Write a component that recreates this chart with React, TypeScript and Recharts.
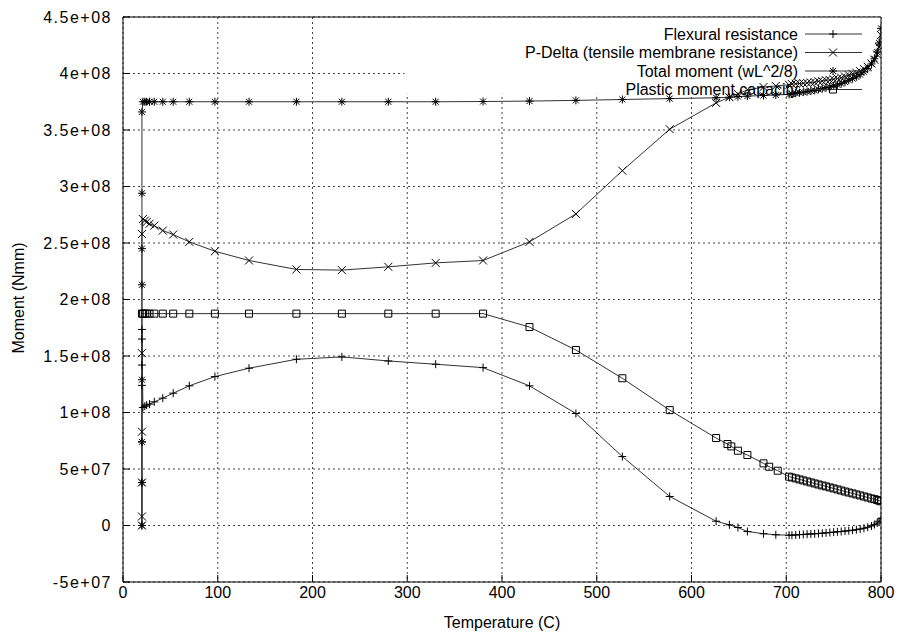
import { LineChart, Line, XAxis, YAxis, CartesianGrid, ReferenceArea, ReferenceLine } from 'recharts';

// moments are in units of 1e8 Nmm, temperature in C
const xTicks = [0, 100, 200, 300, 400, 500, 600, 700, 800];
const yTicks = [-0.5, 0, 0.5, 1, 1.5, 2, 2.5, 3, 3.5, 4, 4.5];
const yTickLabels = ['-5e+07', '0', '5e+07', '1e+08', '1.5e+08', '2e+08', '2.5e+08', '3e+08', '3.5e+08', '4e+08', '4.5e+08'];

const legendNames = ['Flexural resistance', 'P-Delta (tensile membrane resistance)', 'Total moment (wL^2/8)', 'Plastic moment capacity'];

const flexural = [
  [20, 0], [20, 0.38], [20, 0.74], [20, 1.24], [20, 1.42], [20, 1.65], [20, 1.735],
  [21, 1.044], [23, 1.056], [25, 1.065], [28, 1.074], [33, 1.094], [42, 1.127], [53, 1.171], [70, 1.236],
  [97, 1.318], [133, 1.392], [183, 1.471], [231, 1.492], [280, 1.456], [330, 1.427], [380, 1.397],
  [429, 1.236], [478, 0.991], [527, 0.61], [577, 0.257], [626, 0.038], [640, 0.006], [649, -0.018],
  [659, -0.053], [676, -0.073], [689, -0.082], [703, -0.086],
  [706, -0.086], [710, -0.084], [714, -0.081], [718, -0.079], [722, -0.077], [726, -0.075], [730, -0.073],
  [734, -0.071], [738, -0.068], [742, -0.065], [746, -0.062], [750, -0.059], [754, -0.056], [758, -0.053],
  [762, -0.049], [766, -0.046], [770, -0.042], [774, -0.037], [778, -0.031], [782, -0.024], [786, -0.015],
  [790, -0.004], [793, 0.008], [796, 0.022], [798, 0.038], [800, 0.06],
];

const pDelta = [
  [20, 0], [20, 0.08], [20, 0.38], [20, 0.83], [20, 1.525], [20, 2.58],
  [21, 2.712], [23, 2.698], [25, 2.686], [28, 2.67], [33, 2.654], [42, 2.61], [53, 2.575], [70, 2.51],
  [97, 2.427], [133, 2.345], [183, 2.266], [231, 2.26], [280, 2.289], [330, 2.324], [380, 2.345],
  [429, 2.51], [478, 2.757], [527, 3.14], [577, 3.507], [626, 3.74], [640, 3.79], [649, 3.82],
  [659, 3.855], [676, 3.88], [689, 3.89], [703, 3.9],
  [706, 3.906], [710, 3.909], [714, 3.911], [718, 3.914], [722, 3.917], [726, 3.92], [730, 3.923],
  [734, 3.931], [738, 3.933], [742, 3.94], [746, 3.942], [750, 3.949], [754, 3.956], [758, 3.963],
  [762, 3.974], [766, 3.986], [770, 3.997], [774, 4.007], [778, 4.021], [782, 4.039], [786, 4.06],
  [790, 4.089], [793, 4.122], [796, 4.168], [798, 4.232], [800, 4.34],
];

const totalMoment = [
  [20, 0], [20, 0.38], [20, 0.74], [20, 1.29], [20, 2.13], [20, 2.45], [20, 2.94], [20, 3.66],
  [21, 3.75], [23, 3.75], [25, 3.75], [28, 3.75], [33, 3.75], [42, 3.75], [53, 3.75], [70, 3.75],
  [97, 3.75], [133, 3.75], [183, 3.75], [231, 3.75], [280, 3.75], [330, 3.75], [380, 3.752],
  [429, 3.756], [478, 3.762], [527, 3.77], [577, 3.778], [626, 3.785], [640, 3.79], [649, 3.795],
  [659, 3.8], [676, 3.805], [689, 3.81], [703, 3.815],
  [706, 3.82], [710, 3.825], [714, 3.83], [718, 3.835], [722, 3.84], [726, 3.845], [730, 3.85],
  [734, 3.86], [738, 3.865], [742, 3.875], [746, 3.88], [750, 3.89], [754, 3.9], [758, 3.91],
  [762, 3.925], [766, 3.94], [770, 3.955], [774, 3.97], [778, 3.99], [782, 4.015], [786, 4.045],
  [790, 4.085], [793, 4.13], [796, 4.19], [798, 4.27], [800, 4.4],
];

const plastic = [
  [20, 1.875], [21, 1.875], [23, 1.875], [25, 1.875], [28, 1.875], [33, 1.875], [42, 1.875], [53, 1.875],
  [70, 1.875], [97, 1.875], [133, 1.875], [183, 1.875], [231, 1.875], [280, 1.875], [330, 1.875],
  [380, 1.875], [429, 1.756], [478, 1.553], [527, 1.303], [577, 1.021], [626, 0.774], [638, 0.721],
  [642, 0.7], [649, 0.662], [659, 0.624], [676, 0.55], [682, 0.52], [691, 0.485], [703, 0.432],
  [706, 0.425], [710, 0.417], [714, 0.408], [718, 0.399], [722, 0.39], [726, 0.381], [730, 0.372],
  [734, 0.363], [738, 0.354], [742, 0.346], [746, 0.337], [750, 0.328], [754, 0.319], [758, 0.31],
  [762, 0.301], [766, 0.292], [770, 0.284], [774, 0.275], [778, 0.266], [782, 0.257], [786, 0.248],
  [790, 0.239], [793, 0.233], [796, 0.226], [798, 0.22], [800, 0.214],
];

const font = '"Liberation Sans", Arial, sans-serif';
const ink = '#000';
const lineInk = '#333';

const rows = (pts: number[][]) => pts.map(([t, m]) => ({ t, m }));

type Mk = 'plus' | 'cross' | 'star' | 'square';

const markPath = (k: Mk, x: number, y: number) => {
  const s = 4;
  if (k === 'plus') return `M${x - s},${y}h${2 * s}M${x},${y - s}v${2 * s}`;
  if (k === 'cross') return `M${x - s},${y - s}l${2 * s},${2 * s}M${x - s},${y + s}l${2 * s},${-2 * s}`;
  if (k === 'star') return `M${x - s},${y}h${2 * s}M${x},${y - s}v${2 * s}M${x - s + 1},${y - s + 1}l${2 * s - 2},${2 * s - 2}M${x - s + 1},${y + s - 1}l${2 * s - 2},${-2 * s + 2}`;
  return `M${x - 3.5},${y - 3.5}h7v7h-7z`;
};

const dotFor = (k: Mk) => (p: any) => {
  if (p.cx == null || p.cy == null) return <g key={p.index} />;
  return <path key={p.index} d={markPath(k, p.cx, p.cy)} stroke={ink} strokeWidth={1} fill="none" />;
};

const series: { data: number[][]; mk: Mk }[] = [
  { data: flexural, mk: 'plus' },
  { data: pDelta, mk: 'cross' },
  { data: totalMoment, mk: 'star' },
  { data: plastic, mk: 'square' },
];

export default function App() {
  return (
    <div style={{ position: 'absolute', left: 0, top: 0, width: 898, height: 635, background: '#fff', fontFamily: font }}>
      <LineChart width={898} height={635} margin={{ top: 17, right: 17, bottom: 0, left: 0 }}>
        <CartesianGrid stroke="#444" strokeDasharray="2 3" strokeWidth={1} />
        <ReferenceArea x1={297} x2={800} y1={3.82} y2={4.5} fill="#fff" fillOpacity={1} stroke="none" />
        <XAxis
          type="number"
          dataKey="t"
          domain={[0, 800]}
          ticks={xTicks}
          allowDataOverflow
          height={53}
          tickSize={-7}
          tickMargin={12}
          stroke={ink}
          tick={{ fontSize: 16, fill: ink, fontFamily: font }}
        />
        <YAxis
          type="number"
          dataKey="m"
          domain={[-0.5, 4.5]}
          ticks={yTicks}
          allowDataOverflow
          width={123}
          tickSize={-7}
          tickMargin={18}
          stroke={ink}
          tickFormatter={(v: number) => yTickLabels[yTicks.indexOf(v)] ?? ''}
          tick={{ fontSize: 16, fill: ink, fontFamily: font, letterSpacing: 1.5 }}
        />
        <ReferenceLine y={4.5} stroke={ink} />
        <ReferenceLine x={800} stroke={ink} />
        {series.map((s, i) => (
          <Line
            key={i}
            data={rows(s.data)}
            dataKey="m"
            type="linear"
            stroke={lineInk}
            strokeWidth={1}
            dot={dotFor(s.mk)}
            activeDot={false}
            isAnimationActive={false}
          />
        ))}
      </LineChart>
      <svg width={898} height={635} style={{ position: 'absolute', left: 0, top: 0, pointerEvents: 'none' }}>
        {legendNames.map((name, i) => {
          const y = 34 + i * 18.5;
          return (
            <g key={name}>
              <text x={798} y={y} dy="0.35em" textAnchor="end" fontSize={16} fontFamily={font} fill={ink}>{name}</text>
              <line x1={805} x2={862} y1={y} y2={y} stroke={lineInk} />
              <path d={markPath(series[i].mk, 833, y)} stroke={ink} fill="none" />
            </g>
          );
        })}
        <text x={502} y={622} dy="0.35em" textAnchor="middle" fontSize={16} fontFamily={font} fill={ink}>Temperature (C)</text>
        <text x={18} y={298} dy="0.35em" textAnchor="middle" fontSize={16} fontFamily={font} fill={ink} transform="rotate(-90 18 298)">Moment (Nmm)</text>
      </svg>
    </div>
  );
}
